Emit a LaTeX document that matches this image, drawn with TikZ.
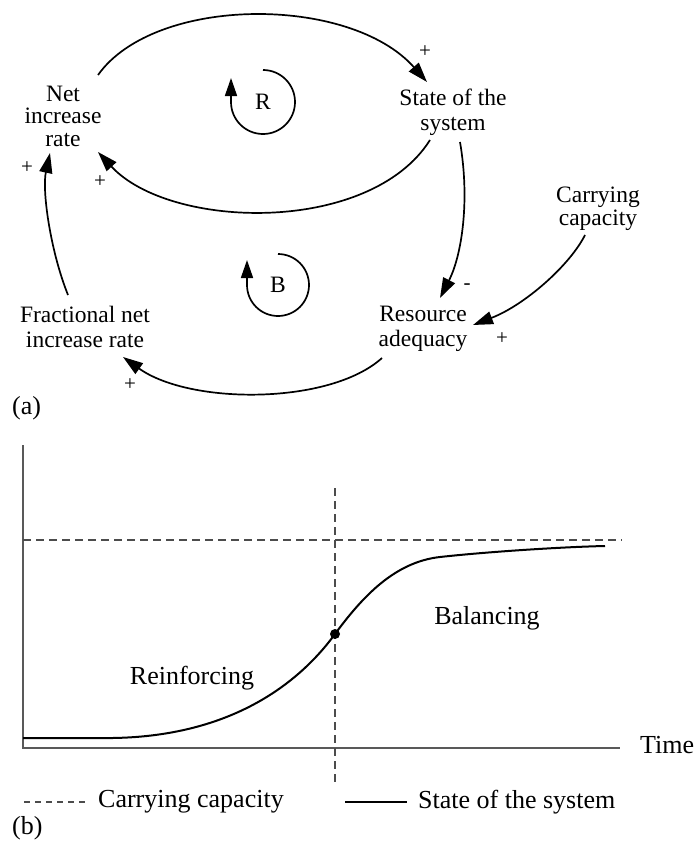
\documentclass[tikz,border=0pt]{standalone}
\usepackage{fontspec}
\setmainfont{Liberation Serif}
\usetikzlibrary{arrows.meta,calc}
\begin{document}
\begin{tikzpicture}[x=1pt,y=-1pt,
  lbl/.style={font=\fontsize{23.5}{25}\selectfont, align=center, inner sep=0pt},
  lbltight/.style={font=\fontsize{23.5}{22.5}\selectfont, align=center, inner sep=0pt},
  clbl/.style={font=\fontsize{26}{26}\selectfont, inner sep=0pt},
  sgn/.style={font=\fontsize{21}{21}\selectfont, inner sep=0pt},
  link/.style={line width=1.7pt, -{Triangle[length=20pt,width=13pt]}},
  loopar/.style={line width=1.7pt, -{Triangle[length=18pt,width=12pt]}},
  axisline/.style={line width=1.2pt, black!65},
  dsh/.style={line width=1.2pt, black!70, dash pattern=on 8pt off 5pt},
  curveline/.style={line width=2pt, black}]
\useasboundingbox (0,0) rectangle (698,843);
% ---------- (a) causal loop diagram ----------
\node[lbltight] (net) at (63,116) {Net\\increase\\rate};
\node[lbl] (state) at (453,112) {State of the\\system};
\node[lbltight] (cap) at (598,209) {Carrying\\capacity};
\node[lbl] (res) at (423,329) {Resource\\adequacy};
\node[lbl] (frac) at (85,327) {Fractional net\\increase rate};

\draw[link] ($(net)+(35,-41)$) .. controls (155,-5) and (350,-5) .. ($(state)+(-26,-30)$);
\draw[link] ($(state)+(-23,28)$) .. controls (370,235) and (170,230) .. ($(net)+(35,36)$);
\draw[link] ($(state)+(7,30)$) .. controls (470,200) and (462,255) .. ($(res)+(17,-31)$);
\draw[link] ($(cap)+(-13,26)$) .. controls (570,265) and (525,305) .. ($(res)+(50,-4)$);
\draw[link] ($(res)+(-41,29)$) .. controls (330,405) and (190,405) .. ($(frac)+(38,30)$);
\draw[link] ($(frac)+(-17,-32)$) .. controls (50,250) and (42,190) .. ($(net)+(-13,37)$);

\node[sgn] (p1) at (425,52) {+};
\node[sgn] (p2) at (100,182) {+};
\node[sgn] (m3) at (467,287) {-};
\node[sgn] (p4) at (502,339) {+};
\node[sgn] (p5) at (130,385) {+};
\node[sgn] (p6) at (27,168) {+};

\node[lbl] (R) at (263,102) {R};
\draw[loopar] (263,70) arc[start angle=-90, end angle=180, radius=32] -- (231,78);
\node[lbl] (B) at (278,285) {B};
\draw[loopar] (278,254) arc[start angle=-90, end angle=180, radius=31] -- (247,260);

\node[clbl, anchor=west] (alab) at (12,408) {(a)};

% ---------- (b) behaviour over time ----------
\draw[axisline] (23,445) -- (23,748) -- (620,748);
\node[clbl, anchor=west] (time) at (640,745) {Time};
\draw[dsh] (23,540) -- (622,540);
\draw[dsh] (335,488) -- (335,783);
\draw[curveline] (23,738) -- (100,738)
  .. controls (230,740) and (300,682) .. (335,634)
  .. controls (363,596) and (395,562) .. (440,557)
  .. controls (485,552) and (560,547) .. (605,546);
\fill (335,634) circle[radius=5];
\node[clbl] (reinf) at (192,678) {Reinforcing};
\node[clbl] (bal) at (487,618) {Balancing};

\draw[dsh, dash pattern=on 6pt off 5pt] (24,802) -- (89,802);
\node[clbl, anchor=west] (lg1) at (98,802) {Carrying capacity};
\draw[curveline] (345,802) -- (407,802);
\node[clbl, anchor=west] (lg2) at (418,802) {State of the system};
\node[clbl, anchor=west] (blab) at (12,828) {(b)};
\end{tikzpicture}
\end{document}
